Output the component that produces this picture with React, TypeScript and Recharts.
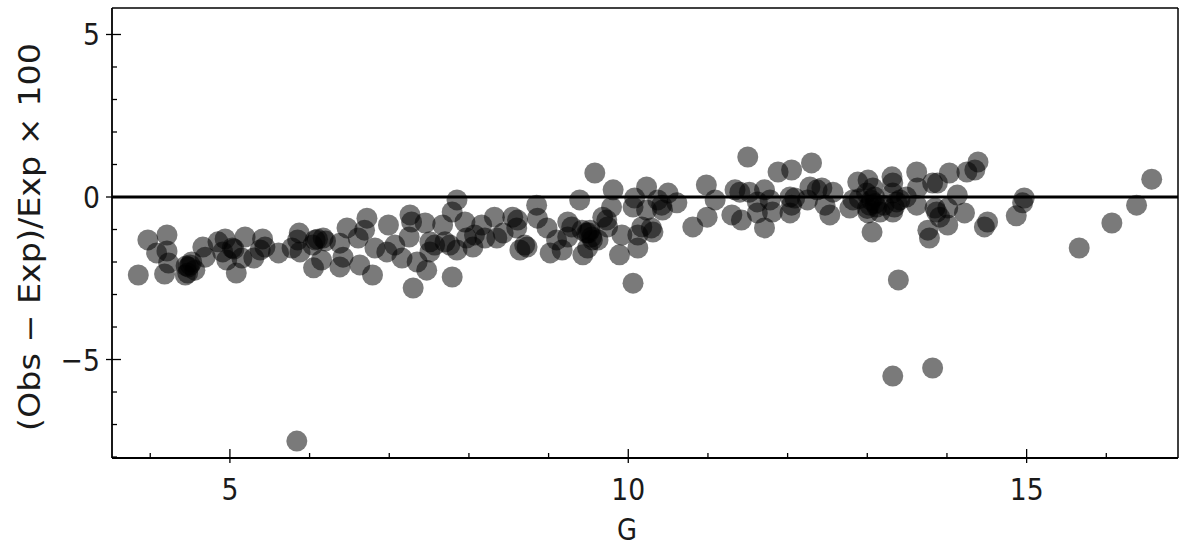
import React from "react";
import {
  ScatterChart,
  Scatter,
  XAxis,
  YAxis,
  ReferenceLine,
} from "recharts";

// G magnitude of each star
const gMag = [
  3.85, 3.97, 4.21, 4.08, 4.21, 4.23, 4.18, 4.45, 4.5, 4.47,
  4.56, 4.44, 4.52, 4.69, 4.66, 4.85, 4.94, 4.91, 4.96, 5.03,
  5.08, 5.15, 5.19, 5.3, 5.41, 5.38, 5.44, 5.61, 5.78, 5.87,
  5.85, 5.88, 6.04, 6.05, 6.17, 6.07, 6.15, 6.38, 6.38, 6.47,
  6.42, 6.61, 6.63, 6.72, 6.69, 6.79, 6.82, 6.97, 6.99, 7.07,
  7.16, 7.26, 7.28, 7.25, 7.3, 7.35, 7.45, 7.47, 7.51, 7.57,
  7.51, 7.67, 7.7, 7.76, 7.79, 7.79, 7.85, 7.85, 7.95, 7.97,
  8.05, 8.07, 8.16, 8.2, 8.32, 8.35, 8.43, 8.55, 8.61, 8.64,
  8.6, 8.85, 8.86, 8.98, 8.7, 8.73, 9.02, 9.1, 9.17, 9.24,
  9.29, 9.24, 9.39, 9.42, 9.48, 9.52, 9.54, 9.55, 9.43, 9.49,
  9.62, 9.58, 9.68, 9.73, 9.74, 9.79, 9.81, 9.89, 9.92, 10.06,
  10.08, 10.06, 10.12, 10.12, 10.17, 10.23, 10.23, 10.29, 10.31, 10.37,
  10.42, 10.43, 10.5, 10.61, 10.81, 10.98, 10.99, 11.09, 11.3, 11.34,
  11.4, 11.42, 11.52, 11.62, 11.62, 11.71, 11.78, 11.71, 11.81, 11.5,
  11.88, 12.05, 12.03, 12.05, 12.03, 12.09, 12.3, 12.28, 12.25, 12.37,
  12.43, 12.47, 12.53, 12.57, 12.78, 12.82, 12.88, 13.01, 12.99, 13.03,
  13.06, 13.07, 13.12, 13.16, 13.09, 13.01, 13.21, 13.31, 13.32, 13.32,
  13.34, 13.41, 13.32, 13.37, 13.49, 13.62, 13.63, 13.62, 13.76, 13.78,
  13.82, 13.88, 13.85, 13.87, 13.91, 14.01, 14.01, 14.03, 14.13, 14.22,
  14.25, 14.35, 14.39, 14.47, 14.51, 14.87, 14.97, 14.95, 15.66, 16.07,
  16.38, 16.57, 5.84, 13.32, 13.82, 13.39, 4.48, 5.05, 6.1, 6.2,
  9.5, 13.05, 13.1, 13.0, 12.9,
];

// (Obs - Exp)/Exp x 100
const deviation = [
  -2.4, -1.32, -1.17, -1.72, -1.66, -2.03, -2.37, -2.12, -2.09, -2.34,
  -2.25, -2.4, -2.0, -1.85, -1.54, -1.38, -1.29, -1.69, -1.94, -1.57,
  -2.34, -1.88, -1.23, -1.88, -1.29, -1.63, -1.54, -1.72, -1.57, -1.11,
  -1.32, -1.69, -1.48, -2.18, -1.26, -1.32, -1.94, -1.42, -2.15, -0.95,
  -1.85, -1.26, -2.09, -0.65, -1.02, -2.4, -1.57, -1.69, -0.86, -1.48,
  -1.88, -0.55, -0.77, -1.23, -2.8, -2.0, -0.8, -2.25, -1.38, -1.48,
  -1.69, -0.86, -1.38, -1.48, -2.46, -0.46, -0.09, -1.63, -0.77, -1.26,
  -1.54, -1.17, -0.86, -1.26, -0.62, -1.26, -1.11, -0.62, -0.71, -1.63,
  -0.95, -0.25, -0.65, -0.95, -1.48, -1.54, -1.72, -1.32, -1.63, -0.77,
  -0.92, -1.23, -0.09, -1.02, -1.11, -1.02, -1.23, -1.32, -1.78, -1.57,
  -1.32, 0.74, -0.62, -0.71, -0.92, -0.31, 0.22, -1.78, -1.17, -2.65,
  -0.03, -0.31, -1.57, -1.17, -0.92, 0.31, -0.4, -0.95, -1.08, -0.09,
  -0.25, -0.4, 0.12, -0.18, -0.92, 0.37, -0.62, -0.09, -0.55, 0.22,
  0.15, -0.71, 0.15, -0.15, -0.49, 0.22, -0.09, -0.95, -0.46, 1.23,
  0.77, 0.83, 0.0, -0.25, -0.49, -0.03, 1.05, 0.31, -0.09, 0.22,
  0.28, -0.25, -0.55, 0.15, -0.34, -0.09, 0.46, 0.52, 0.12, -0.25,
  -1.08, 0.28, -0.31, -0.46, 0.0, -0.49, -0.25, 0.62, 0.43, 0.12,
  -0.31, -0.09, -0.46, -0.15, 0.0, 0.77, 0.28, -0.25, -1.02, -1.26,
  0.43, 0.43, -0.34, -0.46, -0.62, -0.34, -0.86, 0.74, 0.06, -0.49,
  0.77, 0.83, 1.08, -0.92, -0.77, -0.58, -0.03, -0.18, -1.57, -0.8,
  -0.25, 0.55, -7.51, -5.51, -5.26, -2.55, -2.15, -1.6, -1.3, -1.35,
  -1.1, -0.1, -0.2, -0.35, -0.05,
];

const xTicks = [4, 5, 6, 7, 8, 9, 10, 11, 12, 13, 14, 15, 16];
const yTicks = [-8, -7, -6, -5, -4, -3, -2, -1, 0, 1, 2, 3, 4, 5];
const xDomain = [3.52, 16.9];
const yDomain = [-8.03, 5.815];

const data = gMag.map((g, i) => ({ g, dev: deviation[i] }));

const FONT = '"DejaVu Sans", sans-serif';

// narrow label text, like the original's condensed font
function NarrowText({ x, y, anchor, size = 31, children }: any) {
  return (
    <text
      x={0}
      y={0}
      transform={`translate(${x}, ${y}) scale(0.86, 1)`}
      textAnchor={anchor}
      fontSize={size}
      fontFamily={FONT}
      fill="#1a1a1a"
    >
      {children}
    </text>
  );
}

function XTick({ x, y, payload }: any) {
  const major = payload.value % 5 === 0;
  return (
    <g>
      <line x1={x} x2={x} y1={y - (major ? 9 : 5)} y2={y + (major ? 5 : 0)} stroke="#000" strokeWidth={1.3} />
      {major && <NarrowText x={x} y={y + 42} anchor="middle">{payload.value}</NarrowText>}
    </g>
  );
}

function YTick({ x, y, payload }: any) {
  const major = payload.value % 5 === 0;
  const label = payload.value < 0 ? "\u2212" + Math.abs(payload.value) : String(payload.value);
  return (
    <g>
      <line x1={x - (major ? 6 : 0)} x2={x + (major ? 9 : 5)} y1={y} y2={y} stroke="#000" strokeWidth={1.3} />
      {major && <NarrowText x={x - 12} y={y + 11} anchor="end">{label}</NarrowText>}
    </g>
  );
}

const dot = (p: any) => (
  <circle cx={p.cx} cy={p.cy} r={10.5} fill="#000" fillOpacity={0.52} />
);

export default function App() {
  return (
    <div style={{ position: "absolute", left: 0, top: 0, width: 1200, height: 550, background: "#fff" }}>
      <ScatterChart width={1200} height={550} margin={{ top: 8, right: 22, bottom: 0, left: 0 }}>
        <XAxis
          type="number"
          dataKey="g"
          domain={xDomain}
          allowDataOverflow
          ticks={xTicks}
          interval={0}
          height={92}
          tickSize={0}
          tickMargin={0}
          tickLine={false}
          tick={<XTick />}
          axisLine={{ stroke: "#000", strokeWidth: 1.8 }}
          label={{
            content: ({ viewBox }: any) => (
              <NarrowText x={viewBox.x + 515} y={viewBox.y + 82} anchor="middle" size={30}>G</NarrowText>
            ),
          }}
        />
        <YAxis
          type="number"
          dataKey="dev"
          domain={yDomain}
          allowDataOverflow
          ticks={yTicks}
          interval={0}
          width={112}
          tickSize={0}
          tickMargin={0}
          tickLine={false}
          tick={<YTick />}
          axisLine={{ stroke: "#000", strokeWidth: 1.8 }}
          label={{
            content: ({ viewBox }: any) => {
              const cx = viewBox.x + 40;
              const cy = viewBox.y + viewBox.height / 2 + 4;
              return (
                <text
                  x={cx}
                  y={cy}
                  transform={`rotate(-90, ${cx}, ${cy})`}
                  textAnchor="middle"
                  fontSize={30}
                  fontFamily={FONT}
                  fill="#1a1a1a"
                  textLength={388}
                  lengthAdjust="spacingAndGlyphs"
                >
                  (Obs {"\u2212"} Exp)/Exp {"\u00d7"} 100
                </text>
              );
            },
          }}
        />
        <ReferenceLine y={yDomain[1]} stroke="#000" strokeWidth={1.5} />
        <ReferenceLine x={xDomain[1]} stroke="#000" strokeWidth={1.5} />
        <ReferenceLine y={0} stroke="#000" strokeWidth={3} />
        <Scatter data={data} shape={dot} isAnimationActive={false} />
      </ScatterChart>
    </div>
  );
}
